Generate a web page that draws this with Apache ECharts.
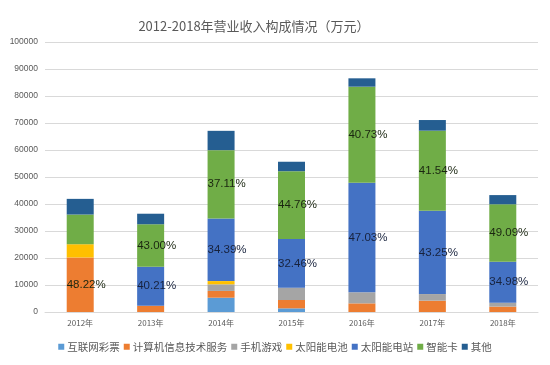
<!DOCTYPE html>
<html>
<head>
<meta charset="utf-8">
<script src="https://cdn.jsdelivr.net/npm/echarts@6/dist/echarts.min.js"></script>
<style>html,body{margin:0;padding:0;background:#fff}#c{width:550px;height:365px}</style>
</head>
<body>
<div id="c"></div>
<script>
var categories = ['2012年', '2013年', '2014年', '2015年', '2016年', '2017年', '2018年'];
var seriesNames = ['互联网彩票', '计算机信息技术服务', '手机游戏', '太阳能电池', '太阳能电站', '智能卡', '其他'];
var lottery   = [0, 0, 5300, 1350, 0, 0, 0];
var itService = [20200, 2300, 2500, 3100, 3200, 4200, 2000];
var mobileGame= [0, 0, 2450, 4550, 4100, 2450, 1450];
var solarCell = [4900, 0, 1200, 0, 0, 0, 0];
var solarPlant= [0, 14500, 23200, 18000, 40600, 30850, 15150];
var smartCard = [11000, 15700, 25300, 25150, 35550, 29650, 21300];
var others    = [5800, 3900, 7150, 3500, 3100, 3950, 3400];
var itPct     = ['48.22%', '', '', '', '', '', ''];
var plantPct  = ['', '40.21%', '34.39%', '32.46%', '47.03%', '43.25%', '34.98%'];
var cardPct   = ['', '43.00%', '37.11%', '44.76%', '40.73%', '41.54%', '49.09%'];
var yTicks = {min: 0, max: 100000, interval: 10000};

var colors = ['#5B9BD5', '#ED7D31', '#A5A5A5', '#FFC000', '#4472C4', '#70AD47', '#255E91'];
var values = [lottery, itService, mobileGame, solarCell, solarPlant, smartCard, others];
var pctLabels = [null, itPct, null, null, plantPct, cardPct, null];

var chart = echarts.init(document.getElementById('c'), null, {renderer: 'canvas'});
var series = seriesNames.map(function (name, i) {
  var s = {
    name: name,
    type: 'bar',
    stack: 'total',
    barWidth: 27,
    itemStyle: {color: colors[i]},
    data: values[i]
  };
  if (pctLabels[i]) {
    var lbls = pctLabels[i];
    s.label = {
      show: true,
      position: 'insideLeft',
      distance: 0,
      fontSize: 11.5,
      fontFamily: 'Liberation Sans, Arial, sans-serif',
      color: i === 4 ? '#17223d' : '#1a2610',
      formatter: function (p) { return lbls[p.dataIndex]; }
    };
  }
  return s;
});

chart.setOption({
  backgroundColor: '#ffffff',
  animation: false,
  title: {
    text: '2012-2018年营业收入构成情况（万元）',
    left: 249,
    top: 15,
    textAlign: 'center',
    textStyle: {fontSize: 13, fontWeight: 'normal', color: '#595959', fontFamily: 'Noto Sans CJK SC'}
  },
  legend: {
    bottom: 8,
    left: 'center',
    itemWidth: 6,
    itemHeight: 6,
    itemGap: 4,
    icon: 'rect',
    textStyle: {fontSize: 10.5, color: '#595959', fontFamily: 'Noto Sans CJK SC', padding: [0, 0, 0, -2]},
    data: seriesNames
  },
  grid: {left: 45, right: 12, top: 42, bottom: 53},
  xAxis: {
    type: 'category',
    data: categories,
    axisTick: {show: false},
    axisLine: {lineStyle: {color: '#d9d9d9'}},
    axisLabel: {fontSize: 8, color: '#595959', fontFamily: 'Noto Sans CJK SC', margin: 7}
  },
  yAxis: {
    type: 'value',
    min: yTicks.min,
    max: yTicks.max,
    interval: yTicks.interval,
    axisLine: {show: false},
    axisTick: {show: false},
    splitLine: {lineStyle: {color: '#d9d9d9'}},
    axisLabel: {
      fontSize: 8.5, color: '#595959', fontFamily: 'Liberation Sans, Arial, sans-serif', margin: 7,
      formatter: function (v) { return String(v); }
    }
  },
  series: series
});
</script>
</body>
</html>
